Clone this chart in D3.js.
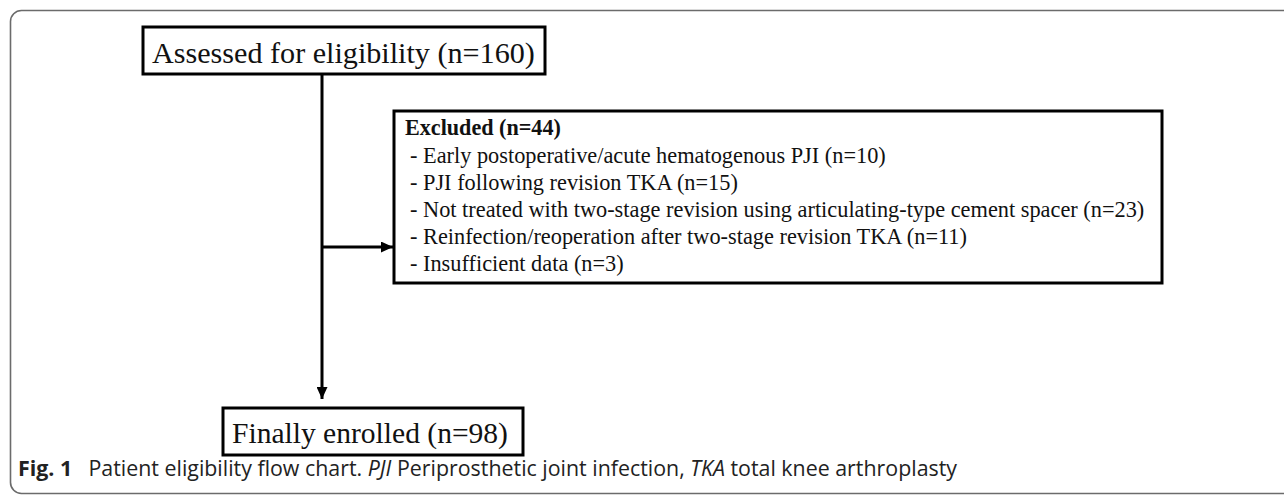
<!DOCTYPE html>
<html>
<head>
<meta charset="utf-8">
<script src="https://cdn.jsdelivr.net/npm/d3@7"></script>
<style>
  html, body { margin: 0; padding: 0; background: #fff; }
  svg { display: block; }
</style>
</head>
<body>
<div id="chart"></div>
<script>
// texts of the flow chart
var topLabel = "Assessed for eligibility (n=160)";
var bottomLabel = "Finally enrolled (n=98)";
var excludedTitle = "Excluded (n=44)";
var excludedItems = [
  "- Early postoperative/acute hematogenous PJI (n=10)",
  "- PJI following revision TKA (n=15)",
  "- Not treated with two-stage revision using articulating-type cement spacer (n=23)",
  "- Reinfection/reoperation after two-stage revision TKA (n=11)",
  "- Insufficient data (n=3)"
];
var captionParts = [
  { t: "Fig. 1", w: "bold", s: "normal" },
  { t: "\u2002 Patient eligibility flow chart. ", w: "normal", s: "normal" },
  { t: "PJI", w: "normal", s: "italic" },
  { t: " Periprosthetic joint infection, ", w: "normal", s: "normal" },
  { t: "TKA", w: "normal", s: "italic" },
  { t: " total knee arthroplasty", w: "normal", s: "normal" }
];

const width = 1284, height = 496;
const serif = "'Liberation Serif', 'Times New Roman', serif";

const svg = d3.select('#chart')
  .append('svg')
  .attr('width', width)
  .attr('height', height);

svg.append('defs').append('marker')
  .attr('id', 'arrow')
  .attr('viewBox', '0 0 12 11')
  .attr('refX', 12).attr('refY', 5.5)
  .attr('markerWidth', 12).attr('markerHeight', 11)
  .attr('markerUnits', 'userSpaceOnUse')
  .attr('orient', 'auto')
  .append('path')
  .attr('d', 'M0,0 L12,5.5 L0,11 Z')
  .attr('fill', '#000');

// outer frame
svg.append('rect')
  .attr('x', 10.5).attr('y', 10.5)
  .attr('width', 1300).attr('height', 483)
  .attr('rx', 11)
  .attr('fill', 'none')
  .attr('stroke', '#6b6b6b')
  .attr('stroke-width', 1.6);

// fit a text element to a target width
function fit(sel, target) {
  const w = sel.node().getComputedTextLength();
  const fs = parseFloat(sel.attr('font-size'));
  sel.attr('font-size', fs * target / w);
}

const boxes = [
  { x0: 143, y0: 27, x1: 545, y1: 74, label: topLabel, tx: 152, ty: 63, tw: 383 },
  { x0: 223, y0: 408, x1: 523, y1: 455, label: bottomLabel, tx: 232, ty: 443, tw: 276 }
];

boxes.forEach(function(b) {
  svg.append('rect')
    .attr('x', b.x0).attr('y', b.y0)
    .attr('width', b.x1 - b.x0).attr('height', b.y1 - b.y0)
    .attr('fill', '#fff').attr('stroke', '#000').attr('stroke-width', 3);
  const t = svg.append('text')
    .attr('x', b.tx).attr('y', b.ty)
    .attr('font-family', serif).attr('font-size', 28)
    .attr('fill', '#111')
    .text(b.label);
  fit(t, b.tw);
});

// excluded box
svg.append('rect')
  .attr('x', 394).attr('y', 111)
  .attr('width', 1162 - 394).attr('height', 283 - 111)
  .attr('fill', '#fff').attr('stroke', '#000').attr('stroke-width', 3);

const ex = svg.append('text')
  .attr('x', 405).attr('y', 135)
  .attr('font-family', serif).attr('font-size', 20)
  .attr('font-weight', 'bold').attr('fill', '#111')
  .text(excludedTitle);
fit(ex, 156);

const lineY = d3.scaleLinear().domain([0, excludedItems.length - 1]).range([163, 271]);
const items = svg.selectAll('text.item')
  .data(excludedItems)
  .enter()
  .append('text')
  .attr('class', 'item')
  .attr('x', 410)
  .attr('y', (d, i) => lineY(i))
  .attr('font-family', serif)
  .attr('font-size', 22)
  .attr('fill', '#111')
  .text(d => d);
// size to the longest line
const longest = items.filter((d, i) => i === 2);
const w0 = longest.node().getComputedTextLength();
items.attr('font-size', 22 * 735 / w0);

// connectors
svg.append('line')
  .attr('x1', 322).attr('y1', 75).attr('x2', 322).attr('y2', 399)
  .attr('stroke', '#000').attr('stroke-width', 3)
  .attr('marker-end', 'url(#arrow)');
svg.append('line')
  .attr('x1', 322).attr('y1', 247).attr('x2', 393).attr('y2', 247)
  .attr('stroke', '#000').attr('stroke-width', 3)
  .attr('marker-end', 'url(#arrow)');

// caption
const cap = svg.append('text')
  .attr('x', 18).attr('y', 476)
  .attr('font-family', "'Open Sans', 'Noto Sans', sans-serif")
  .attr('font-size', 15)
  .attr('fill', '#222');
cap.selectAll('tspan')
  .data(captionParts)
  .enter()
  .append('tspan')
  .attr('font-weight', d => d.w)
  .attr('font-style', d => d.s)
  .text(d => d.t);
fit(cap, 940);
</script>
</body>
</html>
